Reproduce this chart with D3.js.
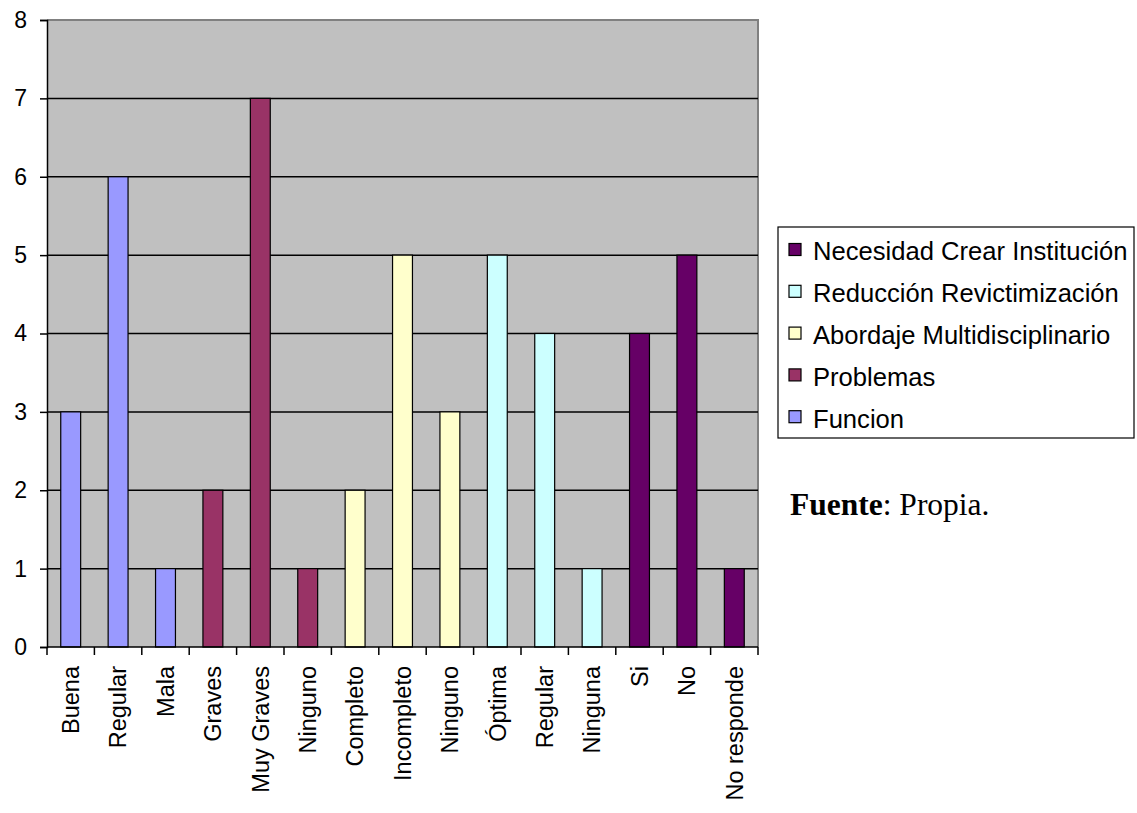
<!DOCTYPE html>
<html><head><meta charset="utf-8">
<script src="https://cdn.jsdelivr.net/npm/d3@7/dist/d3.min.js"></script>
<style>body{margin:0;background:#fff;} svg{display:block;}</style>
</head><body>
<svg id="chart" width="1137" height="813"></svg>
<script>
const categories = ["Buena","Regular","Mala","Graves","Muy Graves","Ninguno","Completo","Incompleto","Ninguno","Óptima","Regular","Ninguna","Si","No","No responde"];
const values = [3,6,1,2,7,1,2,5,3,5,4,1,4,5,1];
const seriesOf = ["Funcion","Funcion","Funcion","Problemas","Problemas","Problemas","Abordaje Multidisciplinario","Abordaje Multidisciplinario","Abordaje Multidisciplinario","Reducción Revictimización","Reducción Revictimización","Reducción Revictimización","Necesidad Crear Institución","Necesidad Crear Institución","Necesidad Crear Institución"];
const legendOrder = ["Necesidad Crear Institución","Reducción Revictimización","Abordaje Multidisciplinario","Problemas","Funcion"];
const seriesColors = ["#660066","#CCFFFF","#FFFFCC","#993366","#9999FF"];
const yTicks = [0,1,2,3,4,5,6,7,8];

const svg = d3.select("#chart");
const L = 47, R = 758, T = 20, B = 647;
const FONT = "Liberation Sans, Arial, sans-serif";
const color = d3.scaleOrdinal().domain(legendOrder).range(seriesColors);
const x = d3.scaleBand().domain(d3.range(categories.length)).range([L, R]);
const y = d3.scaleLinear().domain([0, 8]).range([B, T]);

// plot background
svg.append("rect").attr("x", L).attr("y", T).attr("width", R - L).attr("height", B - T).attr("fill", "#C0C0C0");
// top/right border
svg.append("path").attr("d", `M${L},${T}H${R}V${B}`).attr("fill", "none").attr("stroke", "#808080").attr("stroke-width", 2);
// gridlines
svg.append("g").selectAll("line").data(yTicks.filter(t => t > 0 && t < 8)).join("line")
  .attr("x1", L).attr("x2", R).attr("y1", d => y(d)).attr("y2", d => y(d))
  .attr("stroke", "#000").attr("stroke-width", 1.5);

// bars
const bw = x.bandwidth() * 0.42;
svg.append("g").selectAll("rect").data(values).join("rect")
  .attr("x", (d, i) => x(i) + (x.bandwidth() - bw) / 2)
  .attr("y", d => y(d))
  .attr("width", bw)
  .attr("height", d => B - y(d))
  .attr("fill", (d, i) => color(seriesOf[i]))
  .attr("stroke", "#000").attr("stroke-width", 1.2);

// y axis
const yAxis = d3.axisLeft(y).tickValues(yTicks).tickSize(7).tickPadding(13).tickFormat(d3.format("d"));
const gy = svg.append("g").attr("transform", `translate(${L},0)`).call(yAxis);
gy.select(".domain").attr("stroke", "#000").attr("stroke-width", 1.5);
gy.selectAll(".tick line").attr("stroke", "#000").attr("stroke-width", 1.5);
gy.selectAll("text").attr("font-family", FONT).attr("font-size", 23).attr("fill", "#000");

// x axis: ticks at band boundaries
const gx = svg.append("g");
gx.append("line").attr("x1", L).attr("x2", R).attr("y1", B).attr("y2", B).attr("stroke", "#000").attr("stroke-width", 1.5);
gx.selectAll("line.tk").data(d3.range(categories.length + 1)).join("line").attr("class", "tk")
  .attr("x1", i => i < categories.length ? x(i) : R).attr("x2", i => i < categories.length ? x(i) : R)
  .attr("y1", B).attr("y2", B + 8).attr("stroke", "#000").attr("stroke-width", 1.5);
gx.selectAll("text").data(categories).join("text")
  .attr("transform", (d, i) => `translate(${x(i) + x.bandwidth() / 2},${B + 19}) rotate(-90)`)
  .attr("text-anchor", "end").attr("dy", "0.35em")
  .attr("font-family", FONT).attr("font-size", 23.5).attr("fill", "#000")
  .text(d => d);

// legend
const lg = svg.append("g");
lg.append("rect").attr("x", 778).attr("y", 227).attr("width", 356).attr("height", 211)
  .attr("fill", "#fff").attr("stroke", "#000").attr("stroke-width", 1.2);
const items = lg.selectAll("g.item").data(legendOrder).join("g").attr("class", "item")
  .attr("transform", (d, i) => `translate(789,${251.5 + i * 41.8})`);
items.append("rect").attr("x", 0).attr("y", -8).attr("width", 12).attr("height", 12)
  .attr("fill", d => color(d)).attr("stroke", "#000").attr("stroke-width", 1.2);
items.append("text").attr("x", 24).attr("dy", "0.35em")
  .attr("font-family", FONT).attr("font-size", 25.6).attr("fill", "#000")
  .text(d => d);

// source note
const src = svg.append("text").attr("x", 790).attr("y", 515)
  .attr("font-family", "Liberation Serif, Times New Roman, serif").attr("font-size", 31.5).attr("fill", "#000");
src.append("tspan").attr("font-weight", "bold").text("Fuente");
src.append("tspan").text(": Propia.");
</script>
</body></html>
